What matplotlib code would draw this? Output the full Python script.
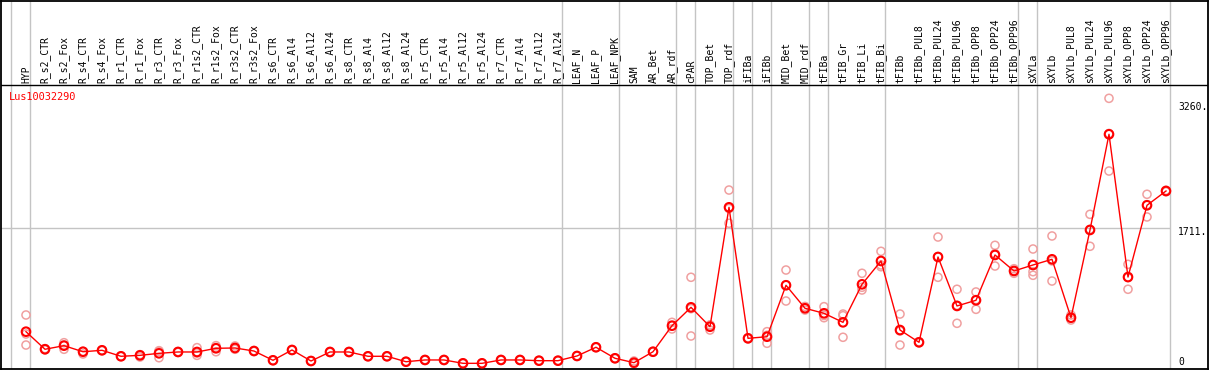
import numpy as np
import matplotlib
matplotlib.use("Agg")
import matplotlib.pyplot as plt

gene = "Lus10032290"

samples = ["HYP",
           "R_s2_CTR", "R_s2_Fox", "R_s4_CTR", "R_s4_Fox", "R_r1_CTR", "R_r1_Fox",
           "R_r3_CTR", "R_r3_Fox", "R_r1s2_CTR", "R_r1s2_Fox", "R_r3s2_CTR", "R_r3s2_Fox",
           "R_s6_CTR", "R_s6_Al4", "R_s6_Al12", "R_s6_Al24", "R_s8_CTR", "R_s8_Al4",
           "R_s8_Al12", "R_s8_Al24", "R_r5_CTR", "R_r5_Al4", "R_r5_Al12", "R_r5_Al24",
           "R_r7_CTR", "R_r7_Al4", "R_r7_Al12", "R_r7_Al24",
           "LEAF_N", "LEAF_P", "LEAF_NPK",
           "SAM", "AR_Bet", "AR_rdf",
           "cPAR",
           "TOP_Bet", "TOP_rdf",
           "iFIBa",
           "iFIBb",
           "MID_Bet", "MID_rdf",
           "tFIBa",
           "tFIB_Gr", "tFIB_Li", "tFIB_Bi",
           "tFIBb", "tFIBb_PUL8", "tFIBb_PUL24", "tFIBb_PUL96", "tFIBb_OPP8",
           "tFIBb_OPP24", "tFIBb_OPP96",
           "sXYLa",
           "sXYLb", "sXYLb_PUL8", "sXYLb_PUL24", "sXYLb_PUL96", "sXYLb_OPP8",
           "sXYLb_OPP24", "sXYLb_OPP96"]

# number of samples in each group (grey separators)
group_sizes = [1, 28, 3, 3, 1, 2, 1, 1, 2, 1, 3, 7, 1, 7]

# mean expression
means = [417,
         197, 242, 166, 184, 109, 121, 146, 163, 163, 209, 213, 175,
         59, 188, 50, 163, 163, 109, 109, 41, 63, 63, 21, 21,
         63, 63, 54, 54,
         113, 222, 84,
         29, 166, 492,
         722,
         479, 1974,
         334,
         354,
         998, 710,
         647,
         534, 1010, 1302,
         438, 284, 1352, 739, 810, 1377, 1177,
         1252,
         1323, 592, 1690, 2888, 1101, 1999, 2178]

# biological replicates
reps = [[626, 388, 250],
        [205, 190], [279, 250, 197], [170, 138], [188, 180], [112, 106], [130, 100],
        [179, 170, 91], [168, 158], [217, 150, 121], [242, 220, 166], [238, 205, 197],
        [180, 170],
        [62, 56], [192, 184], [54, 46], [168, 158], [168, 158], [113, 105],
        [113, 105], [45, 37], [67, 59], [67, 59], [25, 17], [25, 17],
        [67, 59], [67, 59], [58, 50], [58, 50],
        [117, 109], [226, 218], [88, 80],
        [50, 20, 17], [170, 162], [534, 492, 451],
        [1098, 705, 363],
        [501, 498, 438], [2190, 1958, 1774],
        [340, 328],
        [417, 372, 272],
        [1189, 1004, 801], [733, 710, 688],
        [730, 620, 592],
        [638, 617, 347], [1148, 973, 939], [1423, 1252, 1230],
        [638, 426, 250], [290, 278], [1602, 1356, 1098], [948, 747, 522],
        [914, 819, 697], [1498, 1394, 1239], [1205, 1178, 1148],
        [1452, 1168, 1123],
        [1615, 1303, 1051], [626, 587, 563], [1886, 1698, 1486],
        [3338, 2898, 2428], [1260, 1095, 948], [2137, 2007, 1853],
        [2187, 2178, 2169]]

tick_vals = [0, 1711, 3260]

# pixel geometry of the reference picture
W, H = 1209, 370
x0_px, dx_px = 26, 19          # first sample, spacing
y0_px, px_per_unit = 365, 1 / 12.517


def xv(px):
    return (px - x0_px) / dx_px


def yv(py):
    return (y0_px - py) / px_per_unit


fig = plt.figure(figsize=(W / 100, H / 100), dpi=100)
ax = fig.add_axes([0.5 / W, 1.5 / H, 1207 / W, 368 / H])
ax.set_xlim(xv(0.5), xv(1207.5))
ax.set_ylim(yv(368.5), yv(0.5))
ax.set_xticks([])
ax.set_yticks([])
for s in ax.spines.values():
    s.set_linewidth(1.3)
    s.set_color("black")

grey = "#c4c4c4"
x = np.arange(len(samples))

# group separators
ends = np.cumsum(group_sizes) - 1
sep = np.concatenate([[-1], ends]) + 0.21
for s in sep:
    ax.axvline(s, color=grey, lw=1.0, zorder=1)

ax.hlines(tick_vals[1], xv(0.5), sep[-1], color=grey, lw=1.0, zorder=1)
ax.axhline(yv(85), color="black", lw=1.0, zorder=5)

# sample names
for i, name in enumerate(samples):
    ax.text(i, yv(83), name, rotation=90, ha="center", va="bottom",
            family="DejaVu Sans Mono", fontsize=7, color="black")

ax.text(xv(9), yv(97), gene, ha="left", va="center",
        family="DejaVu Sans Mono", fontsize=7.4, color="red")

# replicates
for i, r in enumerate(reps):
    ax.scatter([i] * len(r), r, s=34, facecolors="none", edgecolors="#f0a0a0",
               linewidths=1.1, zorder=2)

ax.plot(x, means, color="red", lw=1.0, zorder=3)
ax.scatter(x, means, s=38, facecolors="none", edgecolors="red",
           linewidths=1.5, zorder=4)

# value labels at the right
offs = [3, -4, -2]
for v, o in zip(tick_vals, offs):
    lab = "0" if v == 0 else f"{v}."
    ax.annotate(lab, (xv(1178), v), xytext=(0, o), textcoords="offset pixels",
                ha="left", va="center", family="DejaVu Sans Mono", fontsize=7)

fig.savefig("out.png", dpi=100)
